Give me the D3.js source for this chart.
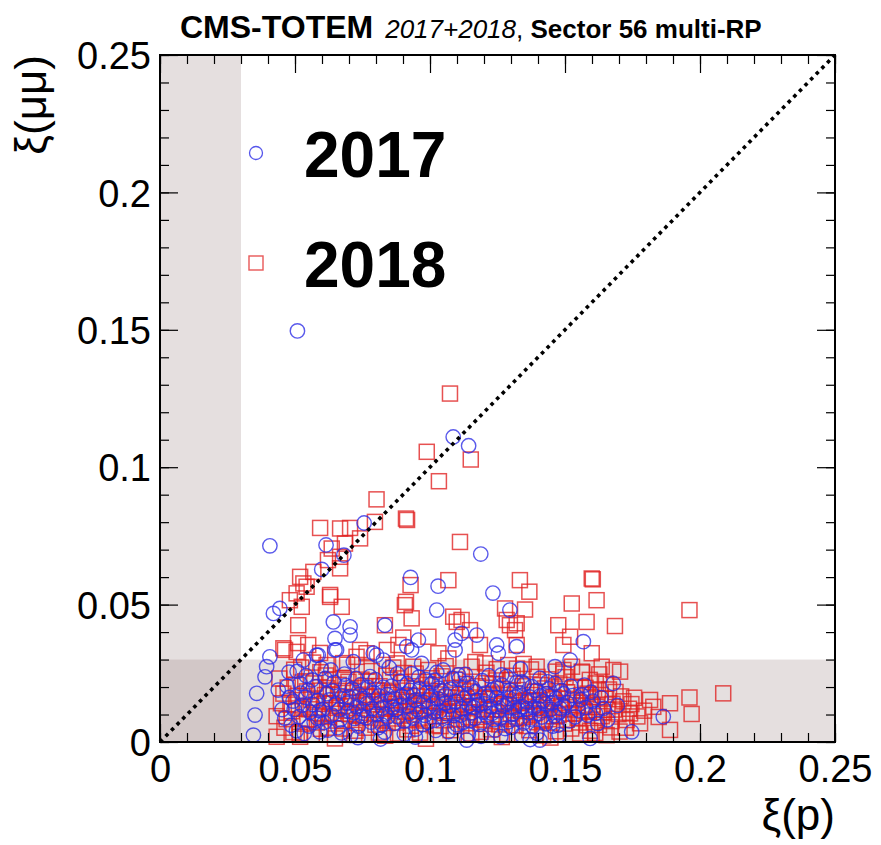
<!DOCTYPE html>
<html>
<head>
<meta charset="utf-8">
<script src="https://cdn.jsdelivr.net/npm/d3@7/dist/d3.min.js"></script>
<style>
  html, body { margin: 0; padding: 0; background: #fff; }
  svg { display: block; }
  text { font-family: "Liberation Sans", Arial, Helvetica, sans-serif; }
</style>
</head>
<body>
<svg id="chart" width="881" height="845"></svg>
<script>
// xi(p) vs xi(mumu), sector 56, multi-RP reconstruction
const xiRange = [0, 0.25];
const majorTicks = [0, 0.05, 0.1, 0.15, 0.2, 0.25];
const tickLabels = ["0", "0.05", "0.1", "0.15", "0.2", "0.25"];
const acceptanceCut = 0.03;   // shaded: xi < 0.03 outside acceptance
const seriesNames = ["2017", "2018"];

// 2017 events [xi(p), xi(mumu)]
const events2017 = [
  [0.0509,0.1496],[0.1086,0.1110],[0.1143,0.1078],[0.0756,0.0797],[0.0615,0.0717],[0.0407,0.0714],
  [0.0681,0.0680],[0.0599,0.0628],[0.0928,0.0599],[0.1030,0.0567],[0.1188,0.0684],[0.1233,0.0542],
  [0.0420,0.0468],[0.0444,0.0486],[0.0642,0.0437],[0.0704,0.0419],[0.0704,0.0389],[0.0648,0.0377],
  [0.0648,0.0335],[0.0586,0.0316],[0.0833,0.0425],[0.1025,0.0480],[0.0914,0.0347],[0.0932,0.0335],
  [0.0957,0.0371],[0.0407,0.0310],[0.0802,0.0316],[0.1296,0.0480],[0.1093,0.0371],[0.1093,0.0335],
  [0.1117,0.0395],[0.1173,0.0389],[0.1247,0.0353],[0.1253,0.0323],[0.1321,0.0347],[0.1568,0.0365],
  [0.1519,0.0298],[0.1463,0.0274],[0.1679,0.0213],[0.1864,0.0092],[0.1747,0.0037],[0.1593,0.0013],
  [0.0395,0.0274],[0.0389,0.0237],[0.0358,0.0177],[0.0352,0.0098],[0.0346,0.0025],[0.0438,0.0189],
  [0.0531,0.0298],[0.0580,0.0316],[0.0654,0.0335],[0.0716,0.0292],[0.0790,0.0323],[0.0827,0.0298],
  [0.0969,0.0286],[0.1019,0.0225],[0.1105,0.0244],[0.1265,0.0244],[0.1340,0.0219],[0.1407,0.0232],
  [0.1562,0.0171],[0.1136,0.0007],[0.1407,0.0007],[0.1340,0.0025],
  [0.0452,0.0118],[0.0471,0.0203],[0.0486,0.0061],[0.0493,0.0149],[0.0508,0.0257],[0.0515,0.0092],
  [0.0527,0.0134],[0.0534,0.0031],[0.0548,0.0188],[0.0556,0.0109],[0.0563,0.0226],[0.0571,0.0072],
  [0.0584,0.0151],[0.0597,0.0268],[0.0603,0.0119],[0.0618,0.0176],[0.0622,0.0043],[0.0637,0.0098],
  [0.0645,0.0217],[0.0652,0.0139],[0.0668,0.0081],[0.0676,0.0168],[0.0683,0.0247],[0.0697,0.0112],
  [0.0706,0.0024],[0.0712,0.0193],[0.0728,0.0128],[0.0735,0.0058],[0.0744,0.0209],[0.0759,0.0157],
  [0.0763,0.0089],[0.0778,0.0238],[0.0786,0.0121],[0.0792,0.0179],[0.0808,0.0052],[0.0815,0.0143],
  [0.0827,0.0199],[0.0836,0.0102],[0.0849,0.0271],[0.0853,0.0149],[0.0867,0.0068],[0.0874,0.0118],
  [0.0889,0.0221],[0.0896,0.0166],[0.0905,0.0029],[0.0918,0.0131],[0.0926,0.0188],[0.0937,0.0087],
  [0.0944,0.0152],[0.0959,0.0236],[0.0965,0.0108],[0.0973,0.0063],[0.0988,0.0181],[0.0996,0.0127],
  [0.1007,0.0212],[0.1016,0.0079],[0.1028,0.0158],[0.1037,0.0113],[0.1049,0.0262],[0.1055,0.0141],
  [0.1068,0.0038],[0.1076,0.0192],[0.1087,0.0097],[0.1094,0.0148],[0.1108,0.0229],[0.1117,0.0121],
  [0.1123,0.0071],[0.1139,0.0171],[0.1145,0.0133],[0.1157,0.0198],[0.1166,0.0086],[0.1174,0.0152],
  [0.1189,0.0021],[0.1197,0.0109],[0.1206,0.0178],[0.1218,0.0241],[0.1225,0.0129],[0.1237,0.0081],
  [0.1246,0.0162],[0.1253,0.0114],[0.1267,0.0207],[0.1278,0.0049],[0.1286,0.0139],[0.1297,0.0188],
  [0.1305,0.0101],[0.1316,0.0163],[0.1328,0.0118],[0.1335,0.0266],[0.1346,0.0069],[0.1357,0.0147],
  [0.1363,0.0108],[0.1377,0.0201],[0.1385,0.0126],[0.1396,0.0032],[0.1408,0.0168],[0.1414,0.0091],
  [0.1427,0.0139],[0.1436,0.0219],[0.1448,0.0119],[0.1455,0.0058],[0.1467,0.0158],[0.1478,0.0107],
  [0.1486,0.0187],[0.1497,0.0131],[0.1516,0.0077],[0.1528,0.0169],[0.1549,0.0116],[0.1572,0.0207],
  [0.1584,0.0098],[0.1603,0.0149],[0.1621,0.0067],[0.1642,0.0122],
  [0.0583,0.0087],[0.0612,0.0231],[0.0659,0.0052],[0.0691,0.0141],[0.0721,0.0086],[0.0751,0.0117],
  [0.0771,0.0198],[0.0803,0.0101],[0.0822,0.0062],[0.0841,0.0172],[0.0861,0.0126],[0.0882,0.0091],
  [0.0912,0.0174],[0.0931,0.0248],[0.0952,0.0119],[0.0981,0.0097],[0.1012,0.0139],[0.1042,0.0186],
  [0.1061,0.0103],[0.1099,0.0063],[0.1131,0.0246],[0.1152,0.0106],[0.1181,0.0137],[0.1211,0.0093],
  [0.1232,0.0189],[0.1262,0.0146],[0.1291,0.0074],[0.1322,0.0218],[0.1342,0.0129],[0.1371,0.0083],
  [0.1402,0.0121],[0.1432,0.0176],[0.1461,0.0095],[0.0479,0.0162],[0.0541,0.0241],[0.0521,0.0178],
  [0.0592,0.0037],[0.0733,0.0016],[0.0817,0.0011],[0.0946,0.0018],[0.1021,0.0042],[0.1142,0.0027],
  [0.1262,0.0019],[0.1371,0.0009],[0.1478,0.0026],
  [0.0462,0.0087],[0.0478,0.0254],[0.0497,0.0118],[0.0505,0.0041],[0.0519,0.0213],[0.0538,0.0162],
  [0.0552,0.0058],[0.0566,0.0137],[0.0578,0.0201],[0.0591,0.0114],[0.0608,0.0071],[0.0627,0.0153],
  [0.0633,0.0262],[0.0641,0.0186],[0.0663,0.0117],[0.0672,0.0033],[0.0688,0.0206],[0.0699,0.0164],
  [0.0717,0.0107],[0.0726,0.0231],[0.0739,0.0172],[0.0748,0.0094],[0.0768,0.0141],[0.0781,0.0072],
  [0.0797,0.0227],[0.0811,0.0168],[0.0823,0.0124],[0.0832,0.0036],[0.0844,0.0091],[0.0858,0.0203],
  [0.0869,0.0159],[0.0879,0.0248],[0.0891,0.0134],[0.0903,0.0076],[0.0915,0.0212],[0.0924,0.0104],
  [0.0939,0.0171],[0.0948,0.0047],[0.0962,0.0193],[0.0976,0.0146],[0.0984,0.0227],[0.0993,0.0071],
  [0.1003,0.0169],[0.1014,0.0108],[0.1025,0.0253],[0.1033,0.0196],[0.1046,0.0092],[0.1058,0.0172],
  [0.1071,0.0131],[0.1084,0.0231],[0.1092,0.0053],[0.1103,0.0177],[0.1114,0.0098],[0.1126,0.0159],
  [0.1137,0.0214],[0.1149,0.0078],[0.1161,0.0126],[0.1169,0.0183],[0.1184,0.0064],[0.1193,0.0223],
  [0.1202,0.0139],[0.1214,0.0166],[0.1229,0.0104],[0.1241,0.0043],[0.1249,0.0197],[0.1259,0.0087],
  [0.1272,0.0131],[0.1283,0.0238],[0.1294,0.0159],[0.1302,0.0053],[0.1313,0.0126],[0.1324,0.0083],
  [0.1332,0.0179],[0.1349,0.0211],[0.1359,0.0121],[0.1368,0.0164],[0.1381,0.0057],[0.1393,0.0188],
  [0.1405,0.0104],[0.1418,0.0149],[0.1429,0.0066],[0.1441,0.0193],[0.1452,0.0141],[0.1463,0.0213],
  [0.1474,0.0061],[0.1483,0.0122],[0.1494,0.0176],[0.1507,0.0143],[0.1521,0.0203],[0.1537,0.0091],
  [0.1558,0.0154],[0.1577,0.0126],[0.1596,0.0181],[0.1613,0.0104],[0.1634,0.0161],[0.1658,0.0081],
  [0.1694,0.0133]
];

// 2018 events [xi(p), xi(mumu)]
const events2018 = [
  [0.1074,0.1268],[0.0988,0.1056],[0.1151,0.1028],[0.1033,0.0949],[0.0802,0.0883],[0.0911,0.0813],
  [0.0915,0.0808],[0.0796,0.0801],[0.0593,0.0779],[0.0667,0.0777],[0.0704,0.0779],[0.0741,0.0741],
  [0.0685,0.0722],[0.0636,0.0704],[0.0667,0.0674],[0.0622,0.0662],[0.0568,0.0619],[0.0667,0.0632],
  [0.0519,0.0601],[0.0543,0.0565],[0.0481,0.0516],[0.0630,0.0535],[0.1111,0.0728],[0.1068,0.0589],
  [0.0928,0.0571],[0.0911,0.0510],[0.0512,0.0425],[0.0525,0.0492],[0.0506,0.0541],[0.0531,0.0577],
  [0.0630,0.0528],[0.0673,0.0492],[0.0833,0.0425],[0.0907,0.0498],[0.0932,0.0450],[0.0994,0.0383],
  [0.0883,0.0353],[0.0463,0.0335],[0.0506,0.0328],[0.0549,0.0353],[0.0741,0.0335],[0.0765,0.0323],
  [0.1333,0.0589],[0.1368,0.0547],[0.1599,0.0595],[0.1603,0.0592],[0.1617,0.0516],[0.1525,0.0504],
  [0.1961,0.0480],[0.1278,0.0486],[0.1352,0.0482],[0.1284,0.0444],[0.1296,0.0425],[0.1315,0.0407],
  [0.1321,0.0432],[0.1086,0.0456],[0.1099,0.0437],[0.1117,0.0444],[0.1475,0.0425],[0.1580,0.0437],
  [0.1685,0.0422],[0.1519,0.0383],[0.1494,0.0353],[0.1321,0.0353],[0.1185,0.0353],[0.1148,0.0407],
  [0.2086,0.0177],[0.1961,0.0162],[0.1969,0.0102],[0.1889,0.0044],[0.1889,0.0141],[0.1815,0.0153],
  [0.1827,0.0128],[0.1741,0.0104],[0.1728,0.0080],[0.1778,0.0068],[0.1679,0.0262],[0.1704,0.0256],
  [0.1654,0.0025],
  [0.0457,0.0341],[0.0511,0.0360],[0.0593,0.0324],[0.0617,0.0280],[0.0678,0.0287],[0.0728,0.0310],
  [0.0765,0.0274],[0.0840,0.0335],[0.0877,0.0286],[0.0901,0.0380],[0.0938,0.0274],[0.1031,0.0323],
  [0.1068,0.0304],[0.1154,0.0274],[0.1204,0.0286],[0.1290,0.0280],[0.1395,0.0274],[0.1494,0.0262],
  [0.1562,0.0256],[0.1636,0.0274],[0.1599,0.0323],[0.0432,0.0019],[0.0519,0.0019],
  [0.0432,0.0094],[0.0448,0.0141],[0.0461,0.0052],[0.0473,0.0198],[0.0488,0.0112],[0.0497,0.0263],
  [0.0509,0.0168],[0.0517,0.0031],[0.0529,0.0129],[0.0538,0.0221],[0.0546,0.0082],[0.0559,0.0154],
  [0.0567,0.0289],[0.0574,0.0106],[0.0588,0.0187],[0.0596,0.0048],[0.0607,0.0139],[0.0614,0.0242],
  [0.0626,0.0091],[0.0633,0.0171],[0.0648,0.0013],[0.0655,0.0124],[0.0662,0.0208],[0.0674,0.0076],
  [0.0687,0.0158],[0.0693,0.0281],[0.0702,0.0101],[0.0716,0.0186],[0.0724,0.0041],[0.0737,0.0133],
  [0.0746,0.0227],[0.0753,0.0089],[0.0767,0.0164],[0.0775,0.0117],[0.0784,0.0258],[0.0798,0.0063],
  [0.0806,0.0146],[0.0813,0.0203],[0.0828,0.0097],[0.0834,0.0023],[0.0847,0.0179],[0.0856,0.0128],
  [0.0864,0.0271],[0.0878,0.0071],[0.0885,0.0153],[0.0893,0.0217],[0.0907,0.0109],[0.0916,0.0046],
  [0.0923,0.0167],[0.0938,0.0131],[0.0947,0.0249],[0.0954,0.0083],[0.0968,0.0191],[0.0977,0.0121],
  [0.0985,0.0012],[0.0998,0.0149],[0.1006,0.0232],[0.1018,0.0094],[0.1027,0.0173],[0.1039,0.0058],
  [0.1046,0.0138],[0.1058,0.0276],[0.1067,0.0112],[0.1079,0.0196],[0.1088,0.0027],[0.1097,0.0161],
  [0.1106,0.0084],[0.1118,0.0243],[0.1127,0.0127],[0.1136,0.0068],[0.1148,0.0184],[0.1156,0.0143],
  [0.1168,0.0291],[0.1176,0.0099],[0.1187,0.0037],[0.1198,0.0157],[0.1207,0.0214],[0.1214,0.0119],
  [0.1228,0.0076],[0.1236,0.0176],[0.1247,0.0265],[0.1258,0.0132],[0.1266,0.0018],[0.1277,0.0161],
  [0.1288,0.0093],[0.1296,0.0226],[0.1308,0.0147],[0.1317,0.0061],[0.1326,0.0189],[0.1338,0.0113],
  [0.1347,0.0284],[0.1356,0.0152],[0.1368,0.0043],[0.1377,0.0171],[0.1386,0.0104],[0.1398,0.0237],
  [0.1407,0.0136],[0.1416,0.0078],[0.1427,0.0195],[0.1438,0.0124],[0.1446,0.0016],[0.1457,0.0163],
  [0.1468,0.0256],[0.1476,0.0098],[0.1488,0.0142],[0.1497,0.0067],[0.1508,0.0181],[0.1517,0.0118],
  [0.1526,0.0274],[0.1538,0.0152],[0.1547,0.0088],[0.1556,0.0031],[0.1567,0.0131],[0.1576,0.0197],
  [0.1588,0.0109],[0.1597,0.0163],[0.1606,0.0072],[0.1618,0.0128],[0.1627,0.0246],[0.1636,0.0094],
  [0.1648,0.0158],[0.1657,0.0117],[0.1668,0.0053],[0.1676,0.0139],[0.1687,0.0182],[0.1698,0.0101],
  [0.1716,0.0148],[0.1737,0.0121],[0.1756,0.0161],[0.1768,0.0093],
  [0.0581,0.0071],[0.0619,0.0196],[0.0642,0.0103],[0.0679,0.0233],[0.0708,0.0145],[0.0729,0.0069],
  [0.0761,0.0203],[0.0789,0.0137],[0.0819,0.0082],[0.0838,0.0241],[0.0871,0.0113],[0.0899,0.0187],
  [0.0929,0.0059],[0.0958,0.0142],[0.0991,0.0219],[0.1021,0.0126],[0.1051,0.0079],[0.1083,0.0147],
  [0.1112,0.0198],[0.1141,0.0108],[0.1172,0.0162],[0.1203,0.0066],[0.1232,0.0211],[0.1262,0.0089],
  [0.1293,0.0131],[0.1322,0.0267],[0.1352,0.0092],[0.1381,0.0148],[0.1412,0.0207],[0.1441,0.0083],
  [0.1472,0.0186],[0.1502,0.0236],[0.1531,0.0104],[0.1561,0.0171],[0.1592,0.0226],[0.1622,0.0188],
  [0.1652,0.0212],[0.1582,0.0061],[0.1612,0.0033],[0.1702,0.0038],
  [0.0442,0.0231],[0.0457,0.0176],[0.0469,0.0083],[0.0483,0.0136],[0.0494,0.0036],[0.0503,0.0207],
  [0.0514,0.0122],[0.0523,0.0271],[0.0533,0.0067],[0.0544,0.0184],[0.0553,0.0119],[0.0562,0.0027],
  [0.0571,0.0213],[0.0579,0.0147],[0.0594,0.0254],[0.0603,0.0096],[0.0611,0.0171],[0.0623,0.0052],
  [0.0631,0.0228],[0.0639,0.0141],[0.0651,0.0078],[0.0659,0.0186],[0.0667,0.0129],[0.0681,0.0049],
  [0.0689,0.0114],[0.0698,0.0219],[0.0711,0.0162],[0.0719,0.0026],[0.0732,0.0196],[0.0741,0.0098],
  [0.0757,0.0148],[0.0764,0.0052],[0.0772,0.0222],[0.0781,0.0164],[0.0794,0.0102],[0.0803,0.0188],
  [0.0811,0.0034],[0.0824,0.0154],[0.0831,0.0121],[0.0843,0.0069],[0.0852,0.0226],[0.0861,0.0181],
  [0.0873,0.0139],[0.0881,0.0031],[0.0894,0.0096],[0.0903,0.0251],[0.0911,0.0146],[0.0921,0.0079],
  [0.0934,0.0203],[0.0943,0.0114],[0.0951,0.0168],[0.0963,0.0034],[0.0972,0.0152],[0.0981,0.0078],
  [0.0994,0.0262],[0.1002,0.0186],[0.1013,0.0061],[0.1024,0.0207],[0.1036,0.0144],[0.1043,0.0239],
  [0.1054,0.0106],[0.1063,0.0163],[0.1076,0.0043],[0.1085,0.0121],[0.1093,0.0227],[0.1104,0.0134],
  [0.1116,0.0059],[0.1124,0.0174],[0.1133,0.0211],[0.1146,0.0091],[0.1153,0.0031],[0.1164,0.0129],
  [0.1178,0.0203],[0.1184,0.0146],[0.1195,0.0081],[0.1209,0.0252],[0.1218,0.0172],[0.1226,0.0046],
  [0.1238,0.0119],[0.1244,0.0224],[0.1256,0.0064],[0.1268,0.0193],[0.1274,0.0138],[0.1286,0.0029],
  [0.1299,0.0104],[0.1306,0.0241],[0.1314,0.0176],[0.1329,0.0087],[0.1336,0.0142],[0.1344,0.0203],
  [0.1359,0.0058],[0.1366,0.0121],[0.1374,0.0264],[0.1388,0.0183],[0.1396,0.0072],[0.1404,0.0151],
  [0.1419,0.0024],[0.1425,0.0116],[0.1436,0.0228],[0.1448,0.0158],[0.1459,0.0094],[0.1466,0.0039],
  [0.1479,0.0213],[0.1486,0.0127],[0.1494,0.0249],[0.1506,0.0081],[0.1514,0.0157],[0.1523,0.0049],
  [0.1536,0.0198],[0.1544,0.0134],[0.1553,0.0071],[0.1564,0.0253],[0.1572,0.0112],[0.1584,0.0176],
  [0.1593,0.0041],[0.1603,0.0136],[0.1614,0.0213],[0.1626,0.0062],[0.1632,0.0171],[0.1644,0.0108],
  [0.1663,0.0191],[0.1672,0.0076],[0.1683,0.0118],[0.1708,0.0166],[0.1726,0.0052],[0.1746,0.0138],
  [0.1793,0.0114],[0.1847,0.0091]
];

const frame = { left: 160, right: 835, top: 55, bottom: 742 };

const svg = d3.select("#chart");
const x = d3.scaleLinear().domain(xiRange).range([frame.left, frame.right]);
const y = d3.scaleLinear().domain(xiRange).range([frame.bottom, frame.top]);

const minorTicks = d3.range(0, 0.2501, 0.01).map(v => +v.toFixed(2));

// acceptance bands (two translucent rects, overlap darker)
const band = svg.append("g");
band.append("rect")
  .attr("x", x(0)).attr("y", y(xiRange[1]))
  .attr("width", x(acceptanceCut) - x(0)).attr("height", y(0) - y(xiRange[1]))
  .attr("fill", "#a08a88").attr("fill-opacity", 0.27);
band.append("rect")
  .attr("x", x(0)).attr("y", y(acceptanceCut))
  .attr("width", x(xiRange[1]) - x(0)).attr("height", y(0) - y(acceptanceCut))
  .attr("fill", "#a08a88").attr("fill-opacity", 0.27);

// markers
const blue = "#2b2be6", red = "#e02020";
const sq = 15, rad = 7.2;

svg.append("g").selectAll("rect")
  .data(events2018).join("rect")
  .attr("x", d => x(d[0]) - sq / 2).attr("y", d => y(d[1]) - sq / 2)
  .attr("width", sq).attr("height", sq)
  .attr("fill", "none").attr("stroke", red).attr("stroke-width", 1.5).attr("stroke-opacity", 0.78);

svg.append("g").selectAll("circle")
  .data(events2017).join("circle")
  .attr("cx", d => x(d[0])).attr("cy", d => y(d[1])).attr("r", rad)
  .attr("fill", "none").attr("stroke", blue).attr("stroke-width", 1.4).attr("stroke-opacity", 0.78);

// diagonal xi(p) = xi(mumu)
svg.append("line")
  .attr("x1", x(0)).attr("y1", y(0)).attr("x2", x(xiRange[1])).attr("y2", y(xiRange[1]))
  .attr("stroke", "#000").attr("stroke-width", 3.6).attr("stroke-dasharray", "3.6 4.4");

// axes: ticks pointing inward on all four sides
const axisFont = 38;
function styleAxis(g) {
  g.select(".domain").remove();
  g.selectAll(".tick line").attr("stroke", "#000").attr("stroke-width", 1.2);
}
const bottomMinor = svg.append("g").attr("transform", `translate(0,${frame.bottom})`)
  .call(d3.axisBottom(x).tickValues(minorTicks).tickSize(-9).tickFormat(""));
styleAxis(bottomMinor);
const bottomMajor = svg.append("g").attr("transform", `translate(0,${frame.bottom})`)
  .call(d3.axisBottom(x).tickValues(majorTicks).tickSize(-18).tickPadding(40).tickFormat((d, i) => tickLabels[i]));
styleAxis(bottomMajor);
bottomMajor.selectAll("text").attr("font-size", axisFont).attr("fill", "#000").attr("dy", "0");

const topMinor = svg.append("g").attr("transform", `translate(0,${frame.top})`)
  .call(d3.axisTop(x).tickValues(minorTicks).tickSize(-9).tickFormat(""));
styleAxis(topMinor);
const topMajor = svg.append("g").attr("transform", `translate(0,${frame.top})`)
  .call(d3.axisTop(x).tickValues(majorTicks).tickSize(-18).tickFormat(""));
styleAxis(topMajor);

const leftMinor = svg.append("g").attr("transform", `translate(${frame.left},0)`)
  .call(d3.axisLeft(y).tickValues(minorTicks).tickSize(-9).tickFormat(""));
styleAxis(leftMinor);
const leftMajor = svg.append("g").attr("transform", `translate(${frame.left},0)`)
  .call(d3.axisLeft(y).tickValues(majorTicks).tickSize(-18).tickFormat((d, i) => tickLabels[i]));
styleAxis(leftMajor);
leftMajor.selectAll("text").attr("font-size", axisFont).attr("fill", "#000").attr("dy", "0.36em")
  .attr("x", -9);

const rightMinor = svg.append("g").attr("transform", `translate(${frame.right},0)`)
  .call(d3.axisRight(y).tickValues(minorTicks).tickSize(-9).tickFormat(""));
styleAxis(rightMinor);
const rightMajor = svg.append("g").attr("transform", `translate(${frame.right},0)`)
  .call(d3.axisRight(y).tickValues(majorTicks).tickSize(-18).tickFormat(""));
styleAxis(rightMajor);

// frame
svg.append("rect")
  .attr("x", frame.left).attr("y", frame.top)
  .attr("width", frame.right - frame.left).attr("height", frame.bottom - frame.top)
  .attr("fill", "none").attr("stroke", "#000").attr("stroke-width", 2);

// axis titles
svg.append("text")
  .attr("x", frame.right).attr("y", 830)
  .attr("text-anchor", "end").attr("font-size", 44).attr("fill", "#000")
  .text("ξ(p)");
svg.append("text")
  .attr("transform", `translate(46,${frame.top}) rotate(-90)`)
  .attr("text-anchor", "end").attr("font-size", 44).attr("fill", "#000")
  .text("ξ(μμ)");

// header
const header = svg.append("text").attr("x", 180).attr("y", 38).attr("fill", "#000");
header.append("tspan").attr("font-size", 32).attr("font-weight", "bold").text("CMS-TOTEM");
header.append("tspan").attr("font-size", 26).attr("font-style", "italic").attr("dx", 12).text("2017+2018");
header.append("tspan").attr("font-size", 26).text(", ");
header.append("tspan").attr("font-size", 26).attr("font-weight", "bold").text("Sector 56 multi-RP");

// legend
const legend = svg.append("g");
legend.append("circle").attr("cx", 256).attr("cy", 153).attr("r", 6.5)
  .attr("fill", "none").attr("stroke", blue).attr("stroke-width", 1.3).attr("stroke-opacity", 0.8);
legend.append("rect").attr("x", 256 - 7).attr("y", 263 - 7).attr("width", 14).attr("height", 14)
  .attr("fill", "none").attr("stroke", red).attr("stroke-width", 1.4).attr("stroke-opacity", 0.75);
legend.append("text").attr("x", 304).attr("y", 177).attr("font-size", 64).attr("font-weight", "bold")
  .attr("fill", "#000").text(seriesNames[0]);
legend.append("text").attr("x", 304).attr("y", 287).attr("font-size", 64).attr("font-weight", "bold")
  .attr("fill", "#000").text(seriesNames[1]);
</script>
</body>
</html>
